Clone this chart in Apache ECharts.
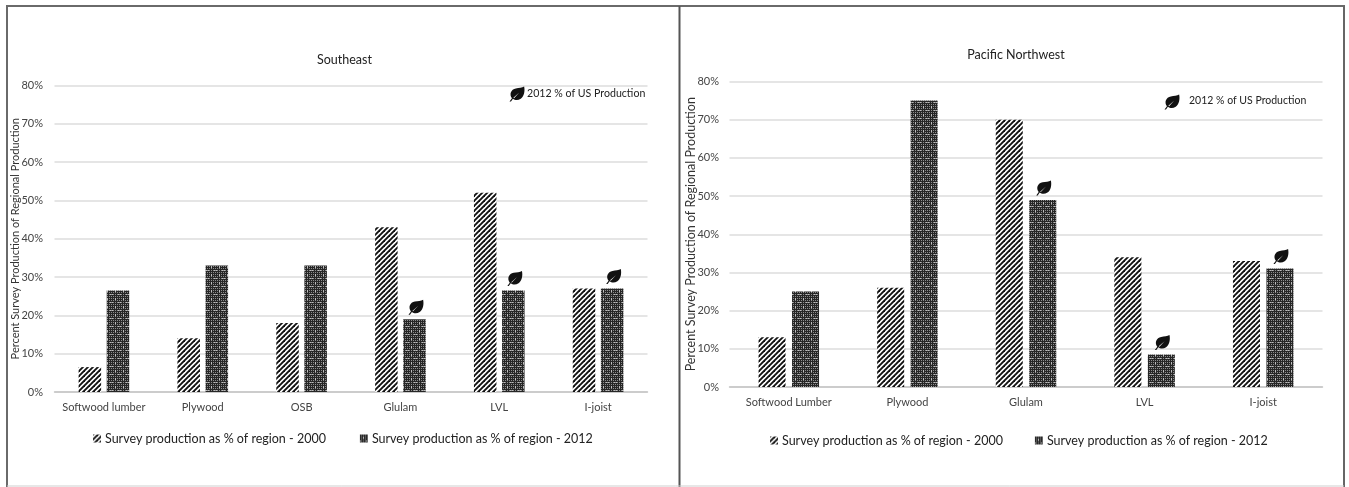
<!DOCTYPE html>
<html><head><meta charset="utf-8">
<style>html,body{margin:0;padding:0;background:#fff}#c{width:1349px;height:487px}</style>
<script src="https://cdn.jsdelivr.net/npm/echarts@6/dist/echarts.min.js"></script>
</head><body><div id="c"></div>
<script>
const seCategories = ['Softwood lumber','Plywood','OSB','Glulam','LVL','I-joist'];
const se2000 = [6.5,14,18,43,52,27];
const se2012 = [26.5,33,33,19,26.5,27];
const seLeaves = ['Glulam','LVL','I-joist'];
const pnwCategories = ['Softwood Lumber','Plywood','Glulam','LVL','I-joist'];
const pnw2000 = [13,26,70,34,33];
const pnw2012 = [25,75,49,8.5,31];
const pnwLeaves = ['Glulam','LVL','I-joist'];
const yTitle = 'Percent Survey Production of Regional Production';
const name2000 = 'Survey production as % of region - 2000';
const name2012 = 'Survey production as % of region - 2012';
const keyText = '2012 % of US Production';

const FONT = 'Lato, "Open Sans", sans-serif';
const LEAF = 'M1 16 L3.5 12.5 C0.5 8 2.5 3 7.5 2 C10.5 1.4 14 1.5 16 0 C17 5 16 10.5 12.5 13 C9.5 15 6.5 14.5 4.5 13 L2.5 16 Z M5 12 L5.7 12.4 L11 6.5 Z';

function stripes(){
  const n=5, c=document.createElement('canvas'); c.width=c.height=n;
  const g=c.getContext('2d'); g.fillStyle='#fff'; g.fillRect(0,0,n,n);
  g.strokeStyle='#111'; g.lineWidth=1.9;
  [[-n,n,n,-n],[0,n,n,0],[0,2*n,2*n,0]].forEach(l=>{g.beginPath();g.moveTo(l[0],l[1]);g.lineTo(l[2],l[3]);g.stroke();});
  return c;
}
function dots(){
  const rows=['#.#.#.#.','########','#.#o#.#.','###o####','#.#.#.#.','########','o.#.#.o.','########'];
  const shade={'#':'#262626','.':'#8c8c8c','o':'#bdbdbd'};
  const c=document.createElement('canvas'); c.width=c.height=8;
  const g=c.getContext('2d');
  rows.forEach((r,y)=>[...r].forEach((v,x)=>{g.fillStyle=shade[v];g.fillRect(x,y,1,1);}));
  return c;
}
const hatch={image:stripes(),repeat:'repeat'}, dot={image:dots(),repeat:'repeat'};

function leafMark(extra){return Object.assign({symbol:'path://'+LEAF,symbolSize:[15,15],itemStyle:{color:'#111'},label:{show:false}},extra);}
function leafPoints(cats,vals,leaves,dx,dy){
  return leaves.map(n=>leafMark({coord:[n,vals[cats.indexOf(n)]],symbolOffset:[dx,dy]}));
}
function grid(l,t,w,h){return {left:l,top:t,width:w,height:h};}
function xa(i,cats,size){return {type:'category',gridIndex:i,data:cats,
  axisLine:{lineStyle:{color:'#c4c4c4',width:1.5}},axisTick:{show:false},
  axisLabel:{interval:0,color:'#444',fontFamily:FONT,fontSize:size,margin:10}};}
function ya(i,gap,size,margin){return {type:'value',gridIndex:i,min:0,max:80,interval:10,
  name:yTitle,nameLocation:'middle',nameGap:gap,nameRotate:90,nameMoveOverlap:false,
  nameTextStyle:{color:'#333',fontFamily:FONT,fontSize:size},
  axisLine:{show:false},axisTick:{show:false},
  axisLabel:{formatter:'{value}%',color:'#444',fontFamily:FONT,fontSize:11,margin},
  splitLine:{lineStyle:{color:'#dcdcdc',width:1.5}}};}
function bar(name,i,vals,color,w,gap,mp){
  const s={type:'bar',name,xAxisIndex:i,yAxisIndex:i,data:vals,barWidth:w,barGap:gap,
    itemStyle:{color},silent:true};
  if(mp) s.markPoint={silent:true,data:mp};
  return s;
}
function legend(left,top,gap,size){return {left,top,itemWidth:8,itemHeight:8,itemGap:gap,
  selectedMode:false,icon:'rect',data:[name2000,name2012],
  textStyle:{color:'#222',fontFamily:FONT,fontSize:size,padding:[0,0,0,-1]}};}
function vline(x,y1,y2,w,col){return {type:'line',shape:{x1:x,y1,x2:x,y2},style:{stroke:col,lineWidth:w},silent:true};}
function hline(y,x1,x2,w,col){return {type:'line',shape:{x1,y1:y,x2,y2:y},style:{stroke:col,lineWidth:w},silent:true};}
function keyLabel(tx,ty,size){return {type:'text',x:tx,y:ty,style:{text:keyText,fill:'#222',font:size+'px '+FONT,textVerticalAlign:'middle'},silent:true};}

const chart=echarts.init(document.getElementById('c'),null,{renderer:'canvas'});
chart.setOption({
  animation:false,
  backgroundColor:'#fff',
  title:[
    {text:'Southeast',left:339.5,top:55,textAlign:'center',textVerticalAlign:'middle',textStyle:{color:'#222',fontFamily:FONT,fontSize:12.5,fontWeight:'normal'}},
    {text:'Pacific Northwest',left:1011,top:50,textAlign:'center',textVerticalAlign:'middle',textStyle:{color:'#222',fontFamily:FONT,fontSize:12.5,fontWeight:'normal'}}
  ],
  grid:[grid(54.5,85.5,593,306.5),grid(729.5,81.5,593,305.5)],
  xAxis:[xa(0,seCategories,11),xa(1,pnwCategories,11)],
  yAxis:[ya(0,33.5,11,11.5),ya(1,32.5,12.5,10.5)],
  legend:[legend(88,427,34,12.5),legend(765,429,32,12.5)],
  series:[
    bar(name2000,0,se2000,hatch,22.5,'25%'),
    bar(name2012,0,se2012,dot,22.5,'25%',[...leafPoints(seCategories,se2012,seLeaves,1.5,-12),leafMark({x:517,y:94})]),
    bar(name2000,1,pnw2000,hatch,27,'24%'),
    bar(name2012,1,pnw2012,dot,27,'24%',[...leafPoints(pnwCategories,pnw2012,pnwLeaves,1,-12),leafMark({x:1172,y:102})])
  ],
  graphic:[
    hline(6,6,1345,2,'#6a6a6a'),
    vline(7,6,487,2,'#6a6a6a'),
    vline(679.5,6,487,2,'#555'),
    vline(1344,6,487,2,'#666'),
    hline(486,7,1344,1,'#cfcfcf'),
    keyLabel(527,94,10.6),
    keyLabel(1189,101,10.5)
  ]
});
</script></body></html>
